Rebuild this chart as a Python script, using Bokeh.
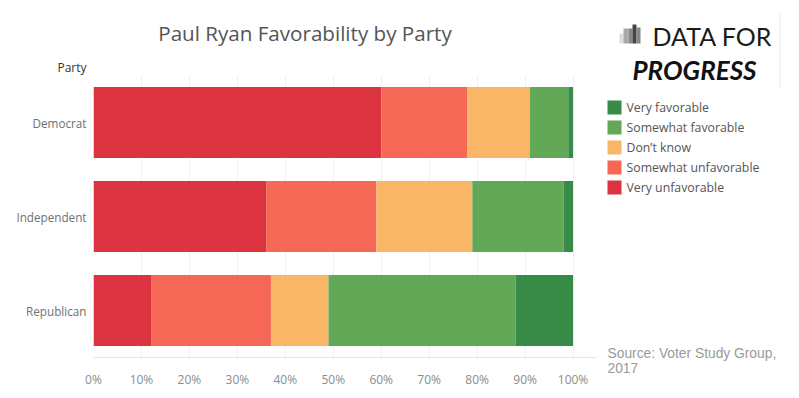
from bokeh.plotting import figure
from bokeh.models import ColumnDataSource, FactorRange, Range1d, FixedTicker
from bokeh.layouts import row, column
from bokeh.core.properties import value
from bokeh.embed import file_html
from bokeh.resources import INLINE

# ---- data ----
parties = ["Republican", "Independent", "Democrat"]
very_unfavorable = [12, 36, 60]
somewhat_unfavorable = [25, 23, 18]
dont_know = [12, 20, 13]
somewhat_favorable = [39, 19, 8]
very_favorable = [12, 2, 1]
series_names = ["Very unfavorable", "Somewhat unfavorable", "Don\u2019t know",
                "Somewhat favorable", "Very favorable"]
series_colors = ["#db3340", "#f46855", "#f9b666", "#62a857", "#388a47"]
tick_values = [0, 10, 20, 30, 40, 50, 60, 70, 80, 90, 100]
tick_labels = ["0%", "10%", "20%", "30%", "40%", "50%", "60%", "70%", "80%", "90%", "100%"]
title_text = "Paul Ryan Favorability by Party"
axis_header = "Party"
source_lines = ["Source: Voter Study Group,", "2017"]

FONT = "Open Sans"
W_TOTAL, H_TOTAL = 797, 396
W_LEFT = 597                 # main column width (frame right edge)
W_SIDE = W_TOTAL - W_LEFT
H_HEAD = 75                  # header height (frame top of chart)
H_MAIN = H_TOTAL - H_HEAD
FRAME_LEFT = 93
FRAME_H = 282


def blank(width, height, x0=0):
    f = figure(width=width, height=height, output_backend="svg", toolbar_location=None,
               x_range=Range1d(x0, width), y_range=Range1d(height, 0),
               x_axis_type=None, y_axis_type=None, min_border=0)
    f.outline_line_color = None
    f.grid.visible = False
    return f

# ---- header (title + "Party" column header) ----
head = figure(width=W_LEFT, height=H_HEAD, output_backend="svg", toolbar_location=None,
              x_range=Range1d(FRAME_LEFT, W_LEFT), y_range=Range1d(H_HEAD, 0),
              x_axis_type=None, min_border=0, min_border_left=FRAME_LEFT)
head.outline_line_color = None
head.grid.visible = False
head.yaxis.ticker = FixedTicker(ticks=[66.5])
head.yaxis.major_label_overrides = {66.5: axis_header}
head.yaxis.axis_line_color = None
head.yaxis.major_tick_line_color = None
head.yaxis.minor_tick_line_color = None
head.yaxis.major_label_text_font = FONT
head.yaxis.major_label_text_font_size = "12px"
head.yaxis.major_label_text_color = "#333333"
head.yaxis.major_label_standoff = 1
head.text(x=[304.5], y=[32.5], text=[title_text], text_font=value(FONT),
          text_font_size="20.6px", text_color="#555555", text_align="center",
          text_baseline="middle")

# ---- main chart ----
keys = ["vu", "su", "dk", "sf", "vf"]
source = ColumnDataSource(dict(party=parties, vu=very_unfavorable, su=somewhat_unfavorable,
                               dk=dont_know, sf=somewhat_favorable, vf=very_favorable))
p = figure(width=W_LEFT, height=H_MAIN, output_backend="svg", toolbar_location=None,
           y_range=FactorRange(*parties, range_padding=0), x_range=Range1d(0, 105.1),
           min_border_left=FRAME_LEFT, min_border_right=0, min_border_top=0,
           min_border_bottom=H_MAIN - FRAME_H)
p.outline_line_color = None
p.hbar_stack(keys, y="party", height=0.755, color=series_colors, line_color=None, source=source)

p.xaxis.ticker = FixedTicker(ticks=tick_values)
p.xaxis.major_label_overrides = {v: l for v, l in zip(tick_values, tick_labels)}
p.xaxis.axis_line_color = "#e6e6e6"
p.xaxis.major_tick_line_color = None
p.xaxis.minor_tick_line_color = None
p.xaxis.major_label_text_font = FONT
p.xaxis.major_label_text_font_size = "12px"
p.xaxis.major_label_text_color = "#8c8c8c"
p.xaxis.major_label_standoff = 7

p.yaxis.axis_line_color = None
p.yaxis.major_tick_line_color = None
p.yaxis.minor_tick_line_color = None
p.yaxis.major_label_text_font = FONT
p.yaxis.major_label_text_font_size = "11.7px"
p.yaxis.major_label_text_color = "#707070"
p.yaxis.major_label_standoff = 1

p.xgrid.grid_line_color = "#f0f0f0"
p.ygrid.grid_line_color = None

# ---- side panel: logo, legend, source (coordinates relative to its left edge) ----
side = blank(W_SIDE, H_TOTAL)
icon_left = [22, 26, 31, 35, 39]
icon_right = [26, 31, 35, 39, 43]
icon_top = [33, 28, 28, 24, 27]
icon_colors = ["#dddddd", "#aaaaaa", "#888888", "#444444", "#888888"]
side.quad(left=icon_left, right=icon_right, top=icon_top, bottom=[43] * 5,
          color=icon_colors, line_color=None)
side.text(x=[55], y=[35.5], text=["DATA FOR"], text_font=value("Lato"), text_font_size="25px",
          text_color="#1a1a1a", text_baseline="middle")
side.text(x=[35], y=[69.5], text=["PROGRESS"], text_font=value("Lato"), text_font_size="26px",
          text_font_style="bold italic", text_color="#111111", text_baseline="middle")
side.segment(x0=[182.5], y0=[12], x1=[182.5], y1=[88], line_color="#e8e8e8", line_width=1)

leg_names = series_names[::-1]
leg_colors = series_colors[::-1]
leg_y = [107 + 20 * i for i in range(len(leg_names))]
side.rect(x=[17] * len(leg_names), y=leg_y, width=14, height=14, color=leg_colors,
          line_color=None)
side.text(x=[29] * len(leg_names), y=leg_y, text=leg_names, text_font=value(FONT),
          text_font_size="12.3px", text_color="#555555", text_baseline="middle")

side.text(x=[10, 10], y=[353, 367], text=source_lines, text_font=value("Liberation Sans"),
          text_font_size="13.8px", text_color="#9a9a9a", text_baseline="middle")

layout = row(column(head, p), side)
open("out.html", "w").write(file_html(layout, INLINE))
